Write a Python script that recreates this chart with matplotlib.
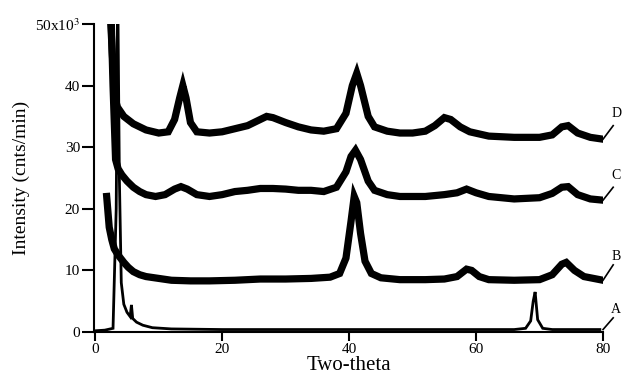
import matplotlib
matplotlib.use("Agg")
import matplotlib.pyplot as plt

plt.rcParams["font.family"] = ["Liberation Serif", "DejaVu Serif"]
plt.rcParams["mathtext.fontset"] = "stix"

# two-theta / intensity (x10^3 cnts/min), one list per sample
a_x = [0, 1.5, 2.8, 3.3, 3.55, 3.8, 4.1, 4.5, 5.0, 5.5, 5.7, 5.9, 6.5, 7.5, 9, 12, 20,
       30, 40, 50, 60, 66, 67.8, 68.6, 69.0, 69.3, 69.7, 70.5, 72, 79.5]
a_y = [0.2, 0.3, 0.6, 20, 55, 25, 8, 4.5, 3.2, 2.5, 4.4, 2.2, 1.6, 1.1, 0.7, 0.5, 0.4,
       0.4, 0.4, 0.4, 0.4, 0.4, 0.6, 1.8, 5.0, 6.5, 2.0, 0.6, 0.4, 0.4]

b_x = [1.8, 2.2, 2.6, 3.0, 3.6, 4.5, 5.2, 6, 7, 8, 10, 12, 15, 18, 22, 26, 30, 34,
       37, 38.5, 39.5, 40.3, 40.8, 41.2, 41.8, 42.5, 43.5, 45, 48, 52, 55, 57, 58.5,
       59.3, 60.5, 62, 66, 70, 72, 73.5, 74.2, 75.5, 77, 80]
b_y = [22, 17, 15, 13.5, 12.5, 11.3, 10.5, 9.8, 9.3, 9.0, 8.7, 8.4, 8.3, 8.3, 8.4,
       8.6, 8.6, 8.7, 8.9, 9.5, 12, 18, 22, 21, 16, 11.5, 9.5, 8.8, 8.5, 8.5, 8.6,
       9.0, 10.2, 10.0, 9.0, 8.5, 8.4, 8.5, 9.3, 11, 11.3, 10, 9.0, 8.4]

c_x = [2.4, 2.8, 3.2, 3.6, 4.2, 5, 6, 7, 8, 9.5, 11, 12.5, 13.5, 14.5, 16, 18, 20, 22,
       24, 26, 28, 30, 32, 34, 36, 38, 39.5, 40.3, 41, 41.8, 43, 44, 46, 48, 52, 55,
       57, 58.5, 60, 62, 66, 70, 72, 73.5, 74.5, 76, 78, 80]
c_y = [55, 40, 28, 26.5, 25.5, 24.5, 23.5, 22.8, 22.3, 22.0, 22.3, 23.2, 23.6, 23.2,
       22.3, 22.0, 22.3, 22.8, 23.0, 23.3, 23.3, 23.2, 23.0, 23.0, 22.8, 23.5, 26,
       28.5, 29.5, 28, 24.5, 23.0, 22.3, 22.0, 22.0, 22.3, 22.6, 23.2, 22.6, 22.0,
       21.6, 21.8, 22.5, 23.5, 23.6, 22.3, 21.6, 21.4]

d_x = [2.2, 2.7, 3.1, 3.5, 4.5, 6, 8, 10, 11.5, 12.5, 13.3, 13.8, 14.3, 15, 16, 18, 20,
       22, 24, 26, 27, 28, 30, 32, 34, 36, 38, 39.5, 40.5, 41.2, 41.8, 43, 44, 46, 48,
       50, 52, 53.5, 55, 56, 57.5, 59, 62, 66, 70, 72, 73.5, 74.5, 76, 78, 80]
d_y = [55, 45, 38, 36.5, 35, 33.8, 32.8, 32.3, 32.5, 34.5, 38, 40, 38, 34, 32.5, 32.3,
       32.5, 33, 33.5, 34.5, 35, 34.8, 34, 33.3, 32.8, 32.6, 33, 35.5, 40, 42, 40, 35,
       33.3, 32.6, 32.3, 32.3, 32.6, 33.5, 34.8, 34.5, 33.3, 32.5, 31.8, 31.6, 31.6,
       32, 33.3, 33.5, 32.3, 31.6, 31.3]

y_ticks = [0, 10, 20, 30, 40, 50]
y_tick_labels = ["0", "10", "20", "30", "40", "50x10$^3$"]
x_ticks = [0, 20, 40, 60, 80]

fig = plt.figure(figsize=(6.22, 3.87), dpi=100)
ax = fig.add_axes([0.1511, 0.1421, 0.8184, 0.7959])

ax.plot(a_x, a_y, color="black", lw=2.0, solid_joinstyle="miter")
for xs, ys in [(b_x, b_y), (c_x, c_y), (d_x, d_y)]:
    ax.plot(xs, ys, color="black", lw=5.2, solid_joinstyle="miter")

# leader lines + curve letters at the right edge
labels = [("A", 0.4, 2.3, 3.6), ("B", 8.4, 10.9, 12.2),
          ("C", 21.4, 23.5, 25.4), ("D", 31.3, 33.5, 35.5)]
for name, y0, y1, ytxt in labels:
    ax.plot([80.0, 81.6], [y0, y1], color="black", lw=1.2, clip_on=False)
    ax.text(81.3, ytxt, name, fontsize=10, ha="left", va="center", clip_on=False)

ax.set_xlim(-0.2, 80)
ax.set_ylim(0, 50)
ax.set_xticks(x_ticks)
ax.set_yticks(y_ticks)
ax.set_yticklabels(y_tick_labels)

for side in ["top", "right"]:
    ax.spines[side].set_visible(False)
ax.spines["left"].set_linewidth(1.5)
ax.spines["bottom"].set_linewidth(1.5)
ax.tick_params(axis="y", direction="out", length=8.5, width=1.5, pad=1.5, labelsize=11)
ax.tick_params(axis="x", direction="out", length=6.5, width=1.5, pad=1.5, labelsize=11)

ax.set_xlabel("Two-theta", fontsize=15, labelpad=0)
ax.set_ylabel("Intensity (cnts/min)", fontsize=14, labelpad=4)

fig.savefig("out.png", dpi=100)
